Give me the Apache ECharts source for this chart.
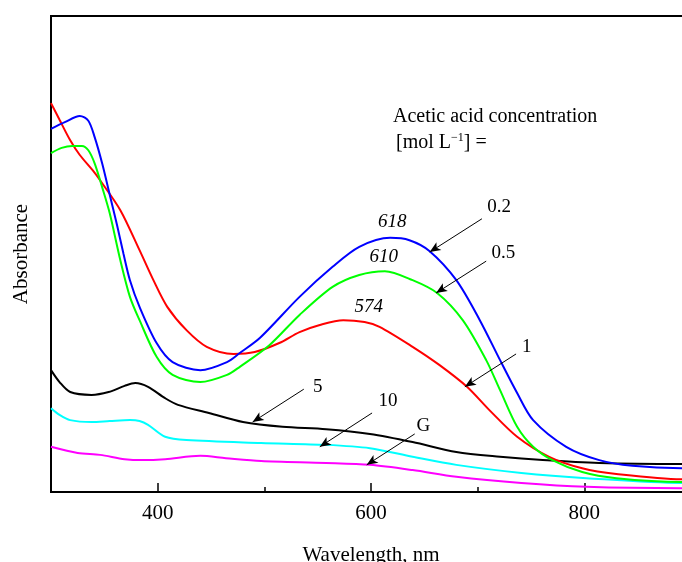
<!DOCTYPE html>
<html>
<head>
<meta charset="utf-8">
<script src="https://cdn.jsdelivr.net/npm/echarts@6/dist/echarts.min.js"></script>
<style>
  html, body { margin: 0; padding: 0; background: #fff; }
  #chart { width: 682px; height: 562px; }
</style>
</head>
<body>
<div id="chart"></div>
<script>
// tick labels on the wavelength axis
const majorTicks = [400, 600, 800]
const minorTicks = [500, 700]

// spectra: [wavelength nm, absorbance a.u.]
const conc02 = [[300,0.763],[313,0.777],[327,0.790],[335,0.780],[341,0.745],[348,0.690],[355,0.625],[362,0.560],[368,0.500],[374,0.445],[383,0.389],[399,0.313],[414,0.273],[440,0.256],[465,0.273],[477,0.292],[496,0.324],[533,0.410],[564,0.473],[589,0.515],[618,0.534],[636,0.529],[655,0.506],[680,0.445],[702,0.361],[721,0.277],[737,0.208],[752,0.151],[783,0.095],[814,0.067],[845,0.055],[891,0.050],[900,0.050]]
const conc05 = [[300,0.712],[310,0.723],[320,0.727],[329,0.727],[335,0.718],[341,0.690],[348,0.640],[355,0.586],[365,0.487],[374,0.410],[383,0.361],[399,0.284],[414,0.246],[440,0.231],[465,0.246],[477,0.263],[505,0.309],[533,0.372],[564,0.431],[589,0.456],[613,0.464],[639,0.445],[662,0.418],[686,0.361],[708,0.277],[721,0.214],[737,0.137],[752,0.095],[770,0.067],[798,0.042],[830,0.029],[891,0.021],[900,0.021]]
const conc1 = [[300,0.817],[308,0.782],[318,0.739],[327,0.708],[339,0.676],[346,0.655],[365,0.592],[383,0.508],[396,0.445],[409,0.389],[427,0.340],[446,0.305],[471,0.290],[491,0.294],[514,0.313],[533,0.336],[552,0.351],[574,0.361],[594,0.357],[608,0.347],[639,0.305],[664,0.267],[690,0.221],[711,0.172],[737,0.116],[767,0.074],[798,0.050],[830,0.038],[891,0.027],[900,0.027]]
const conc5 = [[300,0.256],[308,0.231],[318,0.210],[338,0.204],[354,0.210],[369,0.223],[379,0.229],[391,0.221],[407,0.197],[419,0.183],[448,0.166],[480,0.147],[517,0.137],[558,0.132],[599,0.122],[639,0.105],[680,0.084],[721,0.074],[761,0.067],[814,0.061],[891,0.059],[900,0.059]]
const conc10 = [[300,0.176],[308,0.162],[318,0.151],[338,0.147],[355,0.149],[374,0.151],[383,0.149],[391,0.141],[407,0.116],[427,0.109],[497,0.103],[558,0.099],[599,0.092],[639,0.074],[680,0.057],[741,0.040],[802,0.029],[891,0.019],[900,0.019]]
const concG = [[300,0.095],[325,0.082],[346,0.078],[369,0.069],[386,0.067],[407,0.069],[440,0.076],[464,0.071],[497,0.065],[558,0.061],[599,0.057],[639,0.046],[680,0.032],[741,0.019],[802,0.011],[891,0.008],[900,0.008]]

// peak wavelengths written above the bands
const peakLabels = [
  { text: '618', at: [620, 0.567] },
  { text: '610', at: [612, 0.494] },
  { text: '574', at: [598, 0.389] }
]

// concentration labels with arrows pointing at their curve
const arrowLabels = [
  { text: '0.2', at: [720, 0.599], from: [704, 0.574], to: [655, 0.504] },
  { text: '0.5', at: [724, 0.502], from: [708, 0.485], to: [661, 0.418] },
  { text: '1', at: [746, 0.305], from: [736, 0.290], to: [688, 0.221] },
  { text: '5', at: [550, 0.221], from: [537, 0.216], to: [489, 0.147] },
  { text: '10', at: [616, 0.191], from: [601, 0.166], to: [552, 0.095] },
  { text: 'G', at: [649, 0.139], from: [641, 0.122], to: [596, 0.057] }
]

const serif = "'Liberation Serif', 'Times New Roman', serif"

const chart = echarts.init(document.getElementById('chart'))

const makeSeries = (name, data, color) => ({
  name,
  type: 'line',
  data,
  smooth: 0.3,
  showSymbol: false,
  symbol: 'none',
  lineStyle: { color, width: 2 },
  z: 3
})

// text placed in data space
const textPoints = [
  ...peakLabels.map(p => ({
    coord: p.at,
    label: { formatter: p.text, fontStyle: 'italic' }
  })),
  ...arrowLabels.map(a => ({
    coord: a.at,
    label: { formatter: a.text }
  }))
]

const annotationSeries = {
  name: 'annotations',
  type: 'line',
  data: [],
  silent: true,
  markPoint: {
    silent: true,
    symbol: 'rect',
    symbolSize: 1,
    itemStyle: { color: 'rgba(0,0,0,0)' },
    label: {
      show: true,
      position: 'inside',
      color: '#000',
      fontFamily: serif,
      fontSize: 19
    },
    data: textPoints,
    animation: false
  },
  markLine: {
    silent: true,
    symbol: ['none', 'arrow'],
    symbolSize: [7, 11],
    lineStyle: { color: '#000', width: 1, type: 'solid' },
    label: { show: false },
    data: arrowLabels.map(a => [{ coord: a.from }, { coord: a.to }]),
    animation: false
  }
}

const option = {
  animation: false,
  backgroundColor: '#fff',
  textStyle: { fontFamily: serif },
  grid: {
    left: 51,
    top: 16,
    width: 640,
    height: 476,
    outerBoundsMode: 'none',
    show: true,
    borderColor: '#000',
    borderWidth: 2
  },
  xAxis: [
    {
      type: 'value',
      min: 300,
      max: 900,
      name: 'Wavelength, nm',
      nameLocation: 'middle',
      nameGap: 53,
      nameTextStyle: { color: '#000', fontSize: 21, fontFamily: serif },
      axisLine: { show: true, lineStyle: { color: '#000', width: 2 } },
      axisTick: { show: true, inside: true, length: 9, customValues: majorTicks, lineStyle: { color: '#000', width: 1.5 } },
      axisLabel: { show: true, customValues: majorTicks, margin: 11, color: '#000', fontSize: 21, fontFamily: serif },
      splitLine: { show: false }
    },
    {
      type: 'value',
      min: 300,
      max: 900,
      position: 'bottom',
      axisLine: { show: false },
      axisTick: { show: true, inside: true, length: 5, customValues: minorTicks, lineStyle: { color: '#000', width: 1.5 } },
      axisLabel: { show: false },
      splitLine: { show: false }
    }
  ],
  yAxis: {
    type: 'value',
    min: 0,
    max: 1,
    name: 'Absorbance',
    nameLocation: 'middle',
    nameGap: 19,
    nameTextStyle: { color: '#000', fontSize: 21, fontFamily: serif },
    axisLine: { show: true, lineStyle: { color: '#000', width: 2 } },
    axisTick: { show: false },
    axisLabel: { show: false },
    splitLine: { show: false }
  },
  graphic: [
    {
      type: 'text',
      left: 393,
      top: 107,
      style: {
        text: 'Acetic acid concentration',
        font: `20px ${serif}`,
        fill: '#000'
      }
    },
    {
      type: 'text',
      left: 396,
      top: 132,
      style: {
        text: '[mol L{sup|−1}] =',
        font: `20px ${serif}`,
        fill: '#000',
        rich: {
          sup: { fontSize: 12, verticalAlign: 'top', padding: [0, 0, 10, 0], fontFamily: serif }
        }
      }
    }
  ],
  series: [
    makeSeries('G', concG, '#ff00ff'),
    makeSeries('10', conc10, '#00ffff'),
    makeSeries('5', conc5, '#000000'),
    makeSeries('1', conc1, '#ff0000'),
    makeSeries('0.5', conc05, '#00ff00'),
    makeSeries('0.2', conc02, '#0000ff'),
    annotationSeries
  ]
}

chart.setOption(option)
</script>
</body>
</html>
